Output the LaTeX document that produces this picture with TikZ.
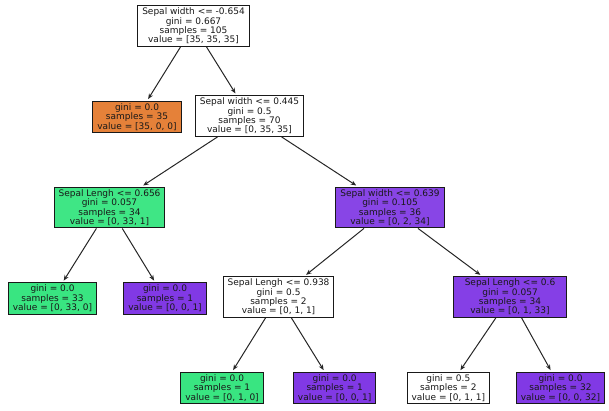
\documentclass[tikz,border=0pt]{standalone}
\usepackage{fontspec}
\setmainfont{DejaVu Sans}
\usetikzlibrary{arrows.meta}
\definecolor{cOrange}{HTML}{E58139}
\definecolor{cGreen}{HTML}{39E581}
\definecolor{cGreenA}{RGB}{63,230,133}
\definecolor{cPurple}{HTML}{8139E5}
\definecolor{cPurpleA}{RGB}{136,69,230}
\definecolor{cPurpleB}{RGB}{133,63,230}
\tikzset{
  tnode/.style={draw=black!90, line width=1pt, rectangle, align=center,
    inner xsep=4.5pt, inner ysep=2.3pt,
    font=\fontsize{9}{9.4}\selectfont, text=black!90},
  edge/.style={draw=black!85, line width=1pt, -{Stealth[length=5.5pt,width=4.5pt]}, shorten >=2pt}
}
\begin{document}
\begin{tikzpicture}[x=1pt,y=-1pt]
\useasboundingbox (0,0) rectangle (609,410);
\node[tnode, fill=white] (r) at (193.5,26) {Sepal width <= -0.654\\gini = 0.667\\samples = 105\\value = [35, 35, 35]};
\node[tnode, fill=cOrange] (a) at (137,117) {gini = 0.0\\samples = 35\\value = [35, 0, 0]};
\node[tnode, fill=white] (b) at (249.5,116) {Sepal width <= 0.445\\gini = 0.5\\samples = 70\\value = [0, 35, 35]};
\node[tnode, fill=cGreenA] (c) at (109.5,207.5) {Sepal Lengh <= 0.656\\gini = 0.057\\samples = 34\\value = [0, 33, 1]};
\node[tnode, fill=cPurpleA] (d) at (390,207.5) {Sepal width <= 0.639\\gini = 0.105\\samples = 36\\value = [0, 2, 34]};
\node[tnode, fill=cGreen] (e) at (52.5,298.5) {gini = 0.0\\samples = 33\\value = [0, 33, 0]};
\node[tnode, fill=cPurple] (f) at (165,298.5) {gini = 0.0\\samples = 1\\value = [0, 0, 1]};
\node[tnode, fill=white] (g) at (278.5,297) {Sepal Lengh <= 0.938\\gini = 0.5\\samples = 2\\value = [0, 1, 1]};
\node[tnode, fill=cPurpleB, minimum width=113pt] (h) at (510,297) {Sepal Lengh <= 0.6\\gini = 0.057\\samples = 34\\value = [0, 1, 33]};
\node[tnode, fill=cGreen] (i) at (222,388) {gini = 0.0\\samples = 1\\value = [0, 1, 0]};
\node[tnode, fill=cPurple] (j) at (334.7,388) {gini = 0.0\\samples = 1\\value = [0, 0, 1]};
\node[tnode, fill=white] (k) at (448.3,388) {gini = 0.5\\samples = 2\\value = [0, 1, 1]};
\node[tnode, fill=cPurple] (l) at (560.5,388) {gini = 0.0\\samples = 32\\value = [0, 0, 32]};
\draw[edge] (r) -- (a);
\draw[edge] (r) -- (b);
\draw[edge] (b) -- (c);
\draw[edge] (b) -- (d);
\draw[edge] (c) -- (e);
\draw[edge] (c) -- (f);
\draw[edge] (d) -- (g);
\draw[edge] (d) -- (h);
\draw[edge] (g) -- (i);
\draw[edge] (g) -- (j);
\draw[edge] (h) -- (k);
\draw[edge] (h) -- (l);
\end{tikzpicture}
\end{document}
